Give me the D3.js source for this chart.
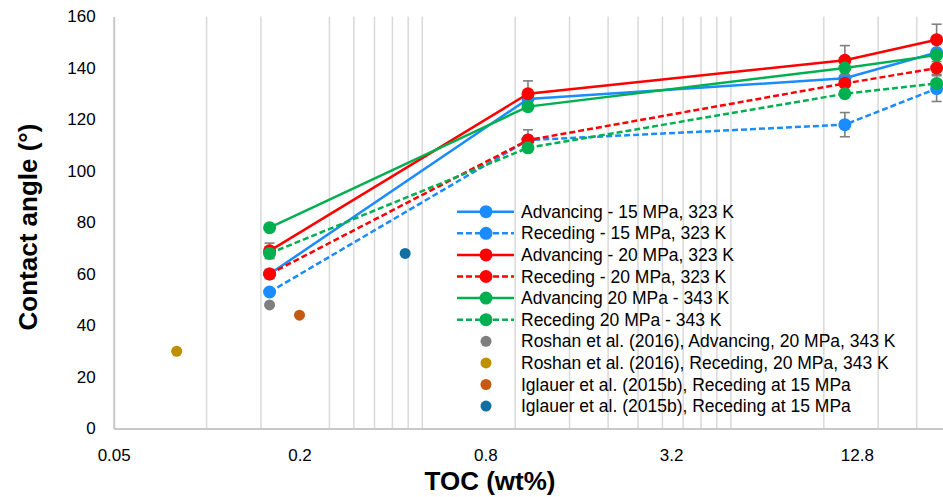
<!DOCTYPE html>
<html>
<head>
<meta charset="utf-8">
<script src="https://cdnjs.cloudflare.com/ajax/libs/d3/7.8.5/d3.min.js"></script>
<style>
  body { margin: 0; background: #fff; }
  svg { display: block; overflow: hidden; }
  text { font-family: "Liberation Sans", Arial, sans-serif; fill: #000; }
</style>
</head>
<body>
<div id="chart"></div>
<script>
var svgW = 943;
var svgH = 497;

// data
var toc = [0.16, 1.1, 11.7, 23.2];
var advancing15 = [60, 128, 136, 146];
var receding15 = [53, 112, 118, 132];
var advancing20 = [69, 130, 143, 151];
var receding20 = [60, 112, 134, 140];
var advancing20hot = [78, 125, 140, 145];
var receding20hot = [68, 109, 130, 134];

// error bar half-widths (0 = none drawn)
var errReceding15 = [0, 0, 4.7, 5];
var errAdvancing20 = [3, 5, 5.7, 6];
var errReceding20 = [1.8, 4, 0, 2.5];

var roshanAdvX = [0.16], roshanAdvY = [48];
var roshanRecX = [0.08], roshanRecY = [30];
var iglauerAX = [0.2], iglauerAY = [44];
var iglauerBX = [0.44], iglauerBY = [68];

var xTicks = [0.05, 0.2, 0.8, 3.2, 12.8];
var xGrid = [0.1, 0.15, 0.25, 0.3, 0.35, 0.4, 0.45, 0.5, 1, 1.5, 2, 2.5, 3, 3.5, 4, 4.5, 5, 10, 15, 20];
var yTicks = [0, 20, 40, 60, 80, 100, 120, 140, 160];

var lineSeries = [
    {name: "Advancing - 15 MPa, 323 K", y: advancing15, err: null, color: "#1a8cff", dash: null},
    {name: "Receding - 15 MPa, 323 K", y: receding15, err: errReceding15, color: "#1a8cff", dash: "6,3"},
    {name: "Advancing - 20 MPa, 323 K", y: advancing20, err: errAdvancing20, color: "#ff0000", dash: null},
    {name: "Receding - 20 MPa, 323 K", y: receding20, err: errReceding20, color: "#ff0000", dash: "6,3"},
    {name: "Advancing 20 MPa - 343 K", y: advancing20hot, err: null, color: "#00b050", dash: null},
    {name: "Receding 20 MPa - 343 K", y: receding20hot, err: null, color: "#00b050", dash: "6,3"}
];

var dotSeries = [
    {name: "Roshan et al. (2016), Advancing, 20 MPa, 343 K", x: roshanAdvX, y: roshanAdvY, color: "#7f7f7f"},
    {name: "Roshan et al. (2016), Receding, 20 MPa, 343 K", x: roshanRecX, y: roshanRecY, color: "#bf8f00"},
    {name: "Iglauer et al. (2015b), Receding at 15 MPa", x: iglauerAX, y: iglauerAY, color: "#c55a11"},
    {name: "Iglauer et al. (2015b), Receding at 15 MPa", x: iglauerBX, y: iglauerBY, color: "#11709f"}
];

var plotLeft = 113.7, plotTop = 16.5, plotBottom = 428.5;
var perQuad = 185.8;

var svg = d3.select("#chart")
    .append("svg")
    .attr("width", svgW)
    .attr("height", svgH);

var xScale = d3.scaleLog().base(4)
    .domain([0.05, 25])
    .range([plotLeft, plotLeft + perQuad * Math.log(500) / Math.log(4)]);

var yScale = d3.scaleLinear()
    .domain([0, 160])
    .range([plotBottom, plotTop]);

// vertical gridlines
svg.append("g").selectAll("line")
    .data(xGrid)
    .enter()
    .append("line")
    .attr("x1", d => xScale(d))
    .attr("x2", d => xScale(d))
    .attr("y1", plotTop)
    .attr("y2", plotBottom)
    .attr("stroke", "#d9d9d9")
    .attr("stroke-width", 1.5);

// axes
var bottomAxis = d3.axisBottom(xScale)
    .tickValues(xTicks)
    .tickSize(0)
    .tickPadding(20)
    .tickFormat(d => d);
var leftAxis = d3.axisLeft(yScale)
    .tickValues(yTicks)
    .tickSize(0)
    .tickPadding(18)
    .tickFormat(d => d);

var gx = svg.append("g")
    .attr("transform", `translate(0, ${plotBottom})`)
    .call(bottomAxis);
var gy = svg.append("g")
    .attr("transform", `translate(${plotLeft}, 0)`)
    .call(leftAxis);

[gx, gy].forEach(function (g) {
    g.select(".domain").attr("stroke", "#c8c8c8").attr("stroke-width", 2);
    g.selectAll("text").attr("font-size", 17).attr("fill", "#000")
        .style("font-family", "'Liberation Sans', Arial, sans-serif");
});

// axis titles
svg.append("text")
    .attr("x", 490)
    .attr("y", 490)
    .attr("text-anchor", "middle")
    .attr("font-weight", "bold")
    .attr("font-size", 26)
    .text("TOC (wt%)");

svg.append("text")
    .attr("transform", "translate(37, 227) rotate(-90)")
    .attr("text-anchor", "middle")
    .attr("font-weight", "bold")
    .attr("font-size", 26)
    .text("Contact angle (°)");

// line series with markers and error bars
var line = d3.line()
    .x((d, i) => xScale(toc[i]))
    .y(d => yScale(d));

lineSeries.forEach(function (s) {
    var g = svg.append("g");
    g.append("path")
        .attr("d", line(s.y))
        .attr("fill", "none")
        .attr("stroke", s.color)
        .attr("stroke-width", 2.5)
        .attr("stroke-dasharray", s.dash);

    if (s.err) {
        s.y.forEach(function (v, i) {
            var e = s.err[i];
            if (!e) return;
            var cx = xScale(toc[i]);
            var eb = g.append("g").attr("stroke", "#7f7f7f").attr("stroke-width", 1.6);
            eb.append("line").attr("x1", cx).attr("x2", cx)
                .attr("y1", yScale(v - e)).attr("y2", yScale(v + e));
            eb.append("line").attr("x1", cx - 5).attr("x2", cx + 5)
                .attr("y1", yScale(v + e)).attr("y2", yScale(v + e));
            eb.append("line").attr("x1", cx - 5).attr("x2", cx + 5)
                .attr("y1", yScale(v - e)).attr("y2", yScale(v - e));
        });
    }

    g.selectAll("circle")
        .data(s.y)
        .enter()
        .append("circle")
        .attr("cx", (d, i) => xScale(toc[i]))
        .attr("cy", d => yScale(d))
        .attr("r", 6.5)
        .attr("fill", s.color);
});

// literature points
dotSeries.forEach(function (s) {
    svg.append("g").selectAll("circle")
        .data(s.y)
        .enter()
        .append("circle")
        .attr("cx", (d, i) => xScale(s.x[i]))
        .attr("cy", d => yScale(d))
        .attr("r", 5.5)
        .attr("fill", s.color);
});

// legend
var legX = 457, legY = 211.7, legStep = 21.6;
var legend = svg.append("g");
lineSeries.concat(dotSeries).forEach(function (s, i) {
    var y = legY + i * legStep;
    if (s.dash !== undefined) {
        legend.append("line")
            .attr("x1", legX).attr("x2", legX + 57)
            .attr("y1", y).attr("y2", y)
            .attr("stroke", s.color)
            .attr("stroke-width", 2.5)
            .attr("stroke-dasharray", s.dash);
        legend.append("circle").attr("cx", legX + 29).attr("cy", y).attr("r", 6.5).attr("fill", s.color);
    } else {
        legend.append("circle").attr("cx", legX + 29).attr("cy", y).attr("r", 5.5).attr("fill", s.color);
    }
    legend.append("text")
        .attr("x", 521)
        .attr("y", y)
        .attr("dy", "0.35em")
        .attr("font-size", 17.5)
        .text(s.name);
});
</script>
</body>
</html>
